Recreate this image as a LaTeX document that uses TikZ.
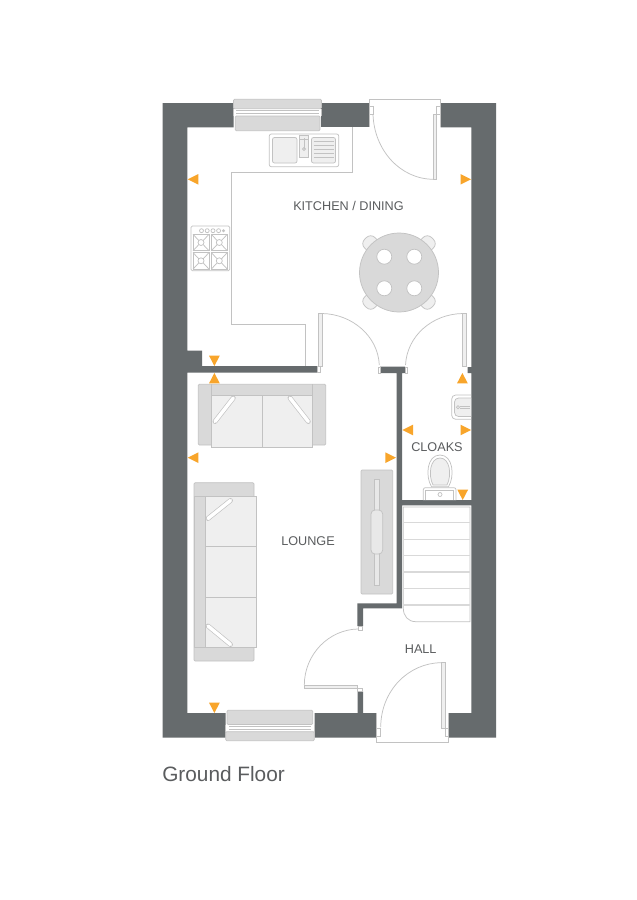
\documentclass[tikz,border=0pt]{standalone}
\usepackage{xcolor}
\usepackage{fontspec}
\setmainfont{Liberation Sans}
\definecolor{wallcol}{HTML}{666B6D}
\definecolor{furncol}{HTML}{D9D9D9}
\definecolor{softcol}{HTML}{EFEFEF}
\definecolor{edgecol}{HTML}{C2C2C2}
\definecolor{markcol}{HTML}{F8A52B}
\definecolor{textcol}{HTML}{5A5C5E}
\tikzset{
  wall/.style={fill=wallcol,draw=none},
  thinline/.style={draw=edgecol,line width=0.55pt},
  furn/.style={draw=edgecol,fill=furncol,line width=0.55pt,rounded corners=0.8pt},
  soft/.style={draw=edgecol,fill=softcol,line width=0.55pt},
  cushion/.style={draw=edgecol,line width=3.6pt,line cap=round},
  cushionin/.style={draw=white,line width=2.6pt,line cap=round},
  viewmark/.style={fill=markcol,draw=none},
  roomlabel/.style={text=textcol,font=\fontsize{9.5}{11}\selectfont,inner sep=0.75pt},
  chair/.style={draw=edgecol,fill=softcol,line width=0.55pt,rounded corners=4.5pt,minimum width=16pt,minimum height=11pt,inner sep=0pt}
}
\begin{document}
\begin{tikzpicture}[x=0.75pt,y=0.75pt,yscale=-1,xscale=1]
\useasboundingbox (0,0) rectangle (636,900);
\fill[white] (0,0) rectangle (636,900);
%Outer walls
\path[wall] (233.5,103) -- (162.7,103) -- (162.7,737.5) -- (225.5,737.5) -- (225.5,713) -- (187.4,713) -- (187.4,372.7) -- (317.3,372.7) -- (317.3,366) -- (202,366) -- (202,350.7) -- (187.4,350.7) -- (187.4,127.4) -- (233.5,127.4) -- cycle;
\path[wall] (321.3,103) -- (369.3,103) -- (369.3,127.4) -- (321.3,127.4) -- cycle;
\path[wall] (440.7,103) -- (496,103) -- (496,737.5) -- (448.7,737.5) -- (448.7,713) -- (471.3,713) -- (471.3,505.3) -- (402,505.3) -- (402,608.3) -- (363,608.3) -- (363,626) -- (357.3,626) -- (357.3,603.3) -- (396.7,603.3) -- (396.7,373) -- (380,373) -- (380,366.7) -- (405,366.7) -- (405,373) -- (402,373) -- (402,500) -- (471.3,500) -- (471.3,373) -- (467.7,373) -- (467.7,367) -- (471.3,367) -- (471.3,127.4) -- (440.7,127.4) -- cycle;
\path[wall] (314.7,713) -- (357.7,713) -- (357.7,691.7) -- (363,691.7) -- (363,713) -- (376.7,713) -- (376.7,737.5) -- (314.7,737.5) -- cycle;
%Top window
\draw[furn] (233.5,99.3) rectangle (321.5,108.7);
\draw[thinline] (233.5,108.7) -- (233.5,115.5);
\draw[thinline] (321.5,108.7) -- (321.5,115.5);
\draw[thinline] (236,110.5) -- (319,110.5);
\draw[thinline] (236,113.5) -- (319,113.5);
\draw[furn] (235.3,116) rectangle (320,130.7);
%Worktop line
\draw[thinline] (352,127.4) -- (352,172.3) -- (231.7,172.3) -- (231.7,324.3) -- (305.7,324.3) -- (305.7,366);
%Sink
\draw[thinline,rounded corners=1.5pt] (269.3,134) rectangle (338.7,166.7);
\draw[soft,rounded corners=1.5pt] (272.5,137.5) rectangle (297,163);
\draw[soft,rounded corners=1.5pt] (311.5,137.5) rectangle (335.5,163);
\foreach \drainy in {141.5,145.5,...,160}
  \draw[thinline] (313.5,\drainy) -- (333.5,\drainy);
\draw[soft] (299.5,135) rectangle (308.5,157.5);
\draw[thinline] (304,138) -- (304,149);
\draw[thinline] (300,139.5) -- (308,139.5);
\draw[thinline] (304,149) circle (1.5);
%Hob
\draw[thinline,fill=white,rounded corners=1pt] (191,226) rectangle (229.7,270.7);
\foreach \knobx in {201.5,207.2,213,218.6}
  \draw[thinline] (\knobx,230.7) circle (2);
\fill[edgecol] (223.5,230.7) circle (1.6);
\foreach \burnx/\burny in {193/234.3,211.3/234.3,193/252.6,211.3/252.6}{
  \draw[thinline] (\burnx,\burny) rectangle (\burnx+16,\burny+16.5);
  \draw[thinline] (\burnx+8,\burny+8.2) circle (3);
  \draw[thinline] (\burnx,\burny) -- (\burnx+5.8,\burny+6.2);
  \draw[thinline] (\burnx+16,\burny) -- (\burnx+10.2,\burny+6.2);
  \draw[thinline] (\burnx,\burny+16.5) -- (\burnx+5.8,\burny+10.3);
  \draw[thinline] (\burnx+16,\burny+16.5) -- (\burnx+10.2,\burny+10.3);
}
%Kitchen door
\draw[thinline] (369.3,99.3) -- (440.7,99.3) -- (440.7,127.4);
\draw[thinline] (369.3,99.3) -- (369.3,127.4);
\draw[thinline] (369.3,114) -- (373,114) -- (373,106) -- (369.3,106);
\draw[thinline] (440.7,114) -- (436.7,114) -- (436.7,106) -- (440.7,106);
\draw[soft] (433.3,114) rectangle (436.7,179.3);
\draw[thinline] (373,114) .. controls (374,150) and (400,179) .. (433.3,179.3);
%Table
\node[chair,rotate=-45] (chairNW) at (373,246) {};
\node[chair,rotate=45] (chairNE) at (425,246) {};
\node[chair,rotate=45] (chairSW) at (373,299) {};
\node[chair,rotate=-45] (chairSE) at (425,299) {};
\draw[furn] (399,272.5) circle (39.5);
\foreach \platex/\platey in {384.3/256.7,414.3/256.7,384.3/288.3,414.3/288.3}
  \draw[thinline,fill=white] (\platex,\platey) circle (7.5);
%Door to kitchen left
\draw[soft] (318.3,313.5) rectangle (322,366);
\draw[thinline] (322,313.5) .. controls (352,314) and (378,336) .. (379.3,365);
\draw[thinline,fill=white] (317.3,366) rectangle (320.5,372.7);
\draw[thinline,fill=white] (378,367) rectangle (380.5,373);
%Door to cloaks
\draw[soft] (462.7,313.5) rectangle (466,366);
\draw[thinline] (462.7,313.5) .. controls (432,314) and (407,336) .. (405.5,365);
\draw[thinline,fill=white] (405,367) rectangle (407.5,373);
%Basin
\draw[thinline,rounded corners=3pt] (471,395) -- (451.7,395) -- (451.7,419.3) -- (471,419.3);
\draw[soft,rounded corners=3pt] (471,398) -- (454.5,398) -- (454.5,416.5) -- (471,416.5);
\draw[thinline] (458,407.3) circle (1.6);
\draw[thinline] (460,406.3) -- (470,406.3);
\draw[thinline] (460,408.3) -- (470,408.3);
%Toilet
\draw[thinline,fill=white,rounded corners=1.5pt] (423.3,500) -- (423.3,487.7) -- (456,487.7) -- (456,500);
\draw[thinline] (425.5,500) -- (425.5,490) -- (453.8,490) -- (453.8,500);
\draw[thinline] (440,494.5) circle (2);
\draw[thinline] (431.5,486.7) .. controls (425,476) and (427,455) .. (440,455) .. controls (453,455) and (455,476) .. (448.5,486.7) -- cycle;
\draw[soft] (433,485) .. controls (428,475) and (430,458) .. (440,458) .. controls (450,458) and (452,475) .. (447,485) -- cycle;
%Stairs
\draw[thinline] (403.3,507) -- (470,507) -- (470,621.7) -- (416,621.7) .. controls (408,621.7) and (403.3,616) .. (403.3,608) -- cycle;
\foreach \tready in {522.7,539.2,555.5,572,588.5,605}
  \draw[draw=furncol,line width=0.8pt] (403.3,\tready) -- (470,\tready);
%Sofa by partition
\draw[furn] (198.3,384.3) rectangle (325.7,445);
\draw[soft] (211.7,395) rectangle (312.7,447.3);
\draw[thinline] (211.7,384.3) -- (211.7,395);
\draw[thinline] (312.7,384.3) -- (312.7,395);
\draw[thinline] (262.3,395) -- (262.3,447.3);
\draw[cushion] (233.3,398) -- (215,421.5);
\draw[cushionin] (233.3,398) -- (215,421.5);
\draw[cushion] (290,398) -- (308.3,421.5);
\draw[cushionin] (290,398) -- (308.3,421.5);
%Long sofa
\draw[furn] (194,482.7) rectangle (254,661);
\draw[soft] (205,496) rectangle (256.7,647.3);
\draw[thinline,fill=furncol] (194,496) rectangle (205,647.3);
\draw[thinline] (205,546.3) -- (256.7,546.3);
\draw[thinline] (205,597) -- (256.7,597);
\draw[cushion] (230.5,500.5) -- (208,518.5);
\draw[cushionin] (230.5,500.5) -- (208,518.5);
\draw[cushion] (208,626) -- (230.5,644.5);
\draw[cushionin] (208,626) -- (230.5,644.5);
%TV unit
\draw[furn] (361,470) rectangle (392.7,594);
\draw[thinline,fill=softcol!70!furncol] (374.3,479.3) rectangle (379.3,585);
\draw[thinline,fill=softcol!70!furncol,rounded corners=3pt] (371,510) rectangle (382.7,554);
%Lounge door
\draw[soft] (304.3,685) rectangle (357.3,688.7);
\draw[thinline] (304.3,685) .. controls (304.5,654) and (329,629.5) .. (358,629);
\draw[thinline,fill=white] (358,626) rectangle (362,630);
\draw[thinline,fill=white] (357.7,688.7) rectangle (362.5,691.7);
%Bottom window
\draw[furn] (227,710.3) rectangle (312.7,724.5);
\draw[thinline] (225.7,724.5) -- (225.7,731.7);
\draw[thinline] (314.3,724.5) -- (314.3,731.7);
\draw[thinline] (229,726.3) -- (311,726.3);
\draw[thinline] (229,729.5) -- (311,729.5);
\draw[furn] (225.7,731.7) rectangle (314.3,740.7);
%Front door
\draw[thinline] (376.7,713) -- (376.7,742) -- (448.7,742) -- (448.7,713);
\draw[thinline] (376.7,728) -- (380.7,728) -- (380.7,736.5) -- (376.7,736.5);
\draw[thinline] (448.7,728) -- (445,728) -- (445,736.5) -- (448.7,736.5);
\draw[soft] (441,662.7) rectangle (445,728);
\draw[thinline] (441,662.7) .. controls (409,663) and (381,690) .. (380.7,727);
%View markers
\fill[viewmark] (187.7,179.3) -- (198.4,174) -- (198.4,184.6) -- cycle;
\fill[viewmark] (471,179.3) -- (460.5,174) -- (460.5,184.6) -- cycle;
\fill[viewmark] (214.4,366) -- (209,355.6) -- (219.8,355.6) -- cycle;
\fill[viewmark] (214.4,373) -- (209,383.4) -- (219.8,383.4) -- cycle;
\fill[viewmark] (462.4,373) -- (457,383.4) -- (467.8,383.4) -- cycle;
\fill[viewmark] (402.3,430) -- (413,424.7) -- (413,435.3) -- cycle;
\fill[viewmark] (471,430) -- (460.5,424.7) -- (460.5,435.3) -- cycle;
\fill[viewmark] (396,457.7) -- (385.4,452.4) -- (385.4,463) -- cycle;
\fill[viewmark] (187.7,457.7) -- (198.4,452.4) -- (198.4,463) -- cycle;
\fill[viewmark] (462.7,500) -- (457.3,489.6) -- (468.1,489.6) -- cycle;
\fill[viewmark] (214.4,713) -- (209,702.6) -- (219.8,702.6) -- cycle;
% Text Node
\node[roomlabel] (kitchenlabel) at (348.5,205.5) {KITCHEN / DINING};
\node[roomlabel] (cloakslabel) at (437,447.3) {CLOAKS};
\node[roomlabel] (loungelabel) at (308,541.5) {LOUNGE};
\node[roomlabel] (halllabel) at (420.7,649) {HALL};
\node[text=textcol,font=\fontsize{15.6}{18}\selectfont,inner sep=0pt,anchor=west] (floorlabel) at (162,774.5) {Ground Floor};
\end{tikzpicture}
\end{document}
